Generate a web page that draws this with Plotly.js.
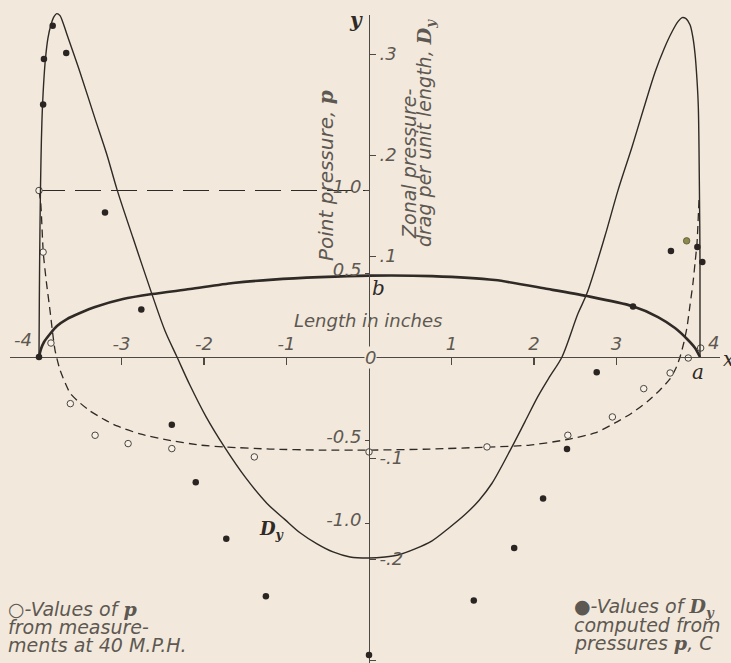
<!DOCTYPE html>
<html>
<head>
<meta charset="utf-8">
<script src="https://cdn.plot.ly/plotly-3.0.1.min.js"></script>
<style>
  html, body { margin: 0; padding: 0; background: #f2e9dc; }
  #chart { width: 731px; height: 663px; }
</style>
</head>
<body>
<div id="chart"></div>
<script>
// body profile (inches, plotted on the p scale)
var profileX = [-4.0, -3.976, -3.939, -3.867, -3.782, -3.661, -3.503, -3.321, -2.982, -2.63, -2.17, -1.648, -1.164, -0.594, 0,
  0.764, 1.527, 2.17, 2.642, 3.188, 3.503, 3.709, 3.855, 3.952, 4.012];
var profileY = [0, 0.048, 0.09, 0.138, 0.186, 0.228, 0.264, 0.3, 0.348, 0.378, 0.408, 0.444, 0.465, 0.48, 0.489,
  0.486, 0.462, 0.408, 0.366, 0.306, 0.24, 0.174, 0.108, 0.054, 0];

// faired point pressure p (dashed)
var pCurveX = [-4.0, -3.979, -3.948, -3.909, -3.867, -3.836, -3.806, -3.745, -3.624, -3.503, -3.382, -3.2, -3.055, -2.776,
  -2.448, -2.048, -1.721, -1.2, -0.594, 0, 0.739, 1.442, 1.952, 2.376, 2.739, 2.982, 3.188, 3.382, 3.527, 3.648, 3.721,
  3.77, 3.818, 3.855, 3.891, 3.927, 3.952, 3.976, 4.0];
var pCurveY = [1.0, 0.925, 0.625, 0.444, 0.282, 0.15, 0.042, -0.078, -0.216, -0.276, -0.324, -0.378, -0.414, -0.462,
  -0.498, -0.529, -0.541, -0.553, -0.559, -0.559, -0.553, -0.541, -0.529, -0.498, -0.456, -0.396, -0.336, -0.264, -0.198,
  -0.132, -0.066, 0, 0.09, 0.18, 0.312, 0.444, 0.565, 0.685, 0.943];

// p = 1.0 reference line
var refX = [-4.0, 0];
var refY = [1.0, 1.0];

// zonal pressure drag per unit length Dy
var dyCurveX = [-4.0, -3.996, -3.991, -3.984, -3.976, -3.964, -3.945, -3.921, -3.891, -3.855, -3.818, -3.785, -3.745,
  -3.709, -3.664, -3.503, -3.321, -3.176, -3.055, -2.861, -2.63, -2.473, -2.327, -2.17, -1.976, -1.745, -1.491, -1.236,
  -1.018, -0.836, -0.63, -0.436, -0.23, 0,
  0.194, 0.352, 0.558, 0.764, 0.958, 1.164, 1.333, 1.491, 1.733, 1.891, 2.048, 2.194, 2.339, 2.533, 2.642, 2.861, 3.018,
  3.188, 3.333, 3.467, 3.576, 3.673, 3.745, 3.794, 3.842, 3.891, 3.927, 3.952, 3.976, 3.992, 4.004, 4.012, 4.012];
var dyCurveY = [0, 0.056, 0.106, 0.155, 0.195, 0.235, 0.269, 0.296, 0.316, 0.329, 0.337, 0.34, 0.338,
  0.331, 0.32, 0.282, 0.236, 0.2, 0.166, 0.118, 0.062, 0.026, 0, -0.028, -0.059, -0.09, -0.12, -0.145,
  -0.161, -0.174, -0.185, -0.193, -0.198, -0.199,
  -0.198, -0.196, -0.19, -0.182, -0.17, -0.156, -0.142, -0.125, -0.089, -0.064, -0.039, -0.019, 0, 0.043, 0.063, 0.12, 0.165,
  0.208, 0.247, 0.282, 0.305, 0.322, 0.332, 0.336, 0.335, 0.329, 0.316, 0.3, 0.274, 0.247, 0.175, 0.096, 0];

// measured p at 40 M.P.H. (open circles)
var pMeasX = [-4.0, -3.95, -3.855, -3.62, -3.32, -2.92, -2.39, -1.39, 0, 1.43, 2.41, 2.95, 3.33, 3.65, 3.87, 4.02];
var pMeasY = [1.0, 0.63, 0.084, -0.28, -0.47, -0.52, -0.55, -0.6, -0.57, -0.54, -0.47, -0.36, -0.19, -0.096, -0.006, 0.054];

// Dy computed from pressures (filled circles)
var dyPtsX = [-4.0, -3.95, -3.94, -3.834, -3.67, -3.2, -2.76, -2.39, -2.1, -1.73, -1.25, 0,
  1.27, 1.76, 2.11, 2.4, 2.76, 3.2, 3.66, 3.98, 4.04];
var dyPtsY = [0, 0.25, 0.295, 0.328, 0.301, 0.143, 0.047, -0.067, -0.124, -0.18, -0.237, -0.295,
  -0.241, -0.189, -0.14, -0.091, -0.015, 0.05, 0.105, 0.109, 0.094];

// one faint (olive) point near the tail
var olivePtX = [3.85];
var olivePtY = [0.115];

var ink = '#2f2a26';
var letter = '#5e5852';
var sans = 'DejaVu Sans, sans-serif';
var serif = 'DejaVu Serif, serif';

var W = 731, H = 663;
function px(v) { return v / W; }
function py(v) { return 1 - v / H; }

var data = [
  { x: refX, y: refY, type: 'scatter', mode: 'lines', xaxis: 'x', yaxis: 'y',
    line: { color: ink, width: 1.2, dash: '26px,10px' } },
  { x: profileX, y: profileY, type: 'scatter', mode: 'lines', xaxis: 'x', yaxis: 'y',
    line: { color: ink, width: 2.6, shape: 'spline', smoothing: 0.7 } },
  { x: pCurveX, y: pCurveY, type: 'scatter', mode: 'lines', xaxis: 'x', yaxis: 'y',
    line: { color: ink, width: 1.3, dash: '8px,5px', shape: 'spline', smoothing: 0.6 } },
  { x: dyCurveX, y: dyCurveY, type: 'scatter', mode: 'lines', xaxis: 'x', yaxis: 'y2',
    line: { color: ink, width: 1.4, shape: 'spline', smoothing: 0.9 } },
  { x: pMeasX, y: pMeasY, type: 'scatter', mode: 'markers', xaxis: 'x', yaxis: 'y', cliponaxis: false,
    marker: { symbol: 'circle', size: 6.5, color: '#f7f0e6', line: { color: '#4a4540', width: 1 } } },
  { x: dyPtsX, y: dyPtsY, type: 'scatter', mode: 'markers', xaxis: 'x', yaxis: 'y2', cliponaxis: false,
    marker: { symbol: 'circle', size: 6.5, color: '#2a2522', line: { width: 0 } } },
  { x: olivePtX, y: olivePtY, type: 'scatter', mode: 'markers', xaxis: 'x', yaxis: 'y2', cliponaxis: false,
    marker: { symbol: 'circle', size: 6.5, color: '#8c8a4e', line: { color: '#5a5530', width: 0.8 } } }
];

var tickFont = { family: sans, size: 18, color: letter, style: 'italic' };

var layout = {
  width: W, height: H,
  margin: { l: 0, r: 0, t: 0, b: 0 },
  paper_bgcolor: '#f2e9dc',
  plot_bgcolor: 'rgba(0,0,0,0)',
  showlegend: false,
  xaxis: {
    domain: [10 / W, 720 / W], range: [-4.3515, 4.2545],
    anchor: 'free', position: 306 / H, side: 'top',
    showline: true, linecolor: '#4d4843', linewidth: 1.1,
    ticks: 'inside', ticklen: 7, tickcolor: '#4d4843', tickwidth: 1.1,
    tickvals: [-3, -2, -1, 1, 2, 3], ticktext: ['-3', '-2', '-1', '1', '2', '3'],
    tickfont: tickFont, showgrid: false, zeroline: false, fixedrange: true
  },
  yaxis: {
    domain: [0, 648 / H], range: [-1.8378, 2.0541],
    anchor: 'free', position: 369 / W, side: 'left',
    showline: true, linecolor: '#4d4843', linewidth: 1.1,
    ticks: 'outside', ticklen: 4, tickcolor: '#4d4843',
    tickvals: [-1, -0.5, 0.5, 1], ticktext: ['-1.0', '-0.5', '0.5', '1.0'],
    ticklabelshift: -4,
    tickfont: tickFont, showgrid: false, zeroline: false, fixedrange: true
  },
  yaxis2: {
    domain: [0, 1], range: [-0.30297, 0.35347],
    anchor: 'free', position: 369 / W, side: 'right',
    showline: false,
    ticks: 'outside', ticklen: 6, tickcolor: '#4d4843',
    tickvals: [-0.3, -0.2, -0.1, 0.1, 0.2, 0.3], ticktext: ['-.3', '-.2', '-.1', '.1', '.2', '.3'],
    tickfont: tickFont, showgrid: false, zeroline: false, fixedrange: true
  },
  annotations: []
};

function note(text, x, y, opts) {
  var a = {
    text: text, xref: 'paper', yref: 'paper', x: px(x), y: py(y),
    xanchor: 'center', yanchor: 'middle', showarrow: false,
    font: { family: sans, size: 18, color: letter, style: 'italic' }
  };
  for (var k in opts) a[k] = opts[k];
  layout.annotations.push(a);
}

var bold = function (t) { return '<span style="font-family:DejaVu Serif;font-weight:bold">' + t + '</span>'; };
var legendFont = { family: sans, size: 19, color: letter, style: 'italic' };
var titleFont = { family: sans, size: 19, color: letter, style: 'italic' };

note('0', 370, 357, { bgcolor: '#f2e9dc', borderpad: 0 });
note('-4', 23, 339);
note('4', 713, 342);
note('Length in inches', 368, 320);
note('y', 356, 20, { font: { family: serif, size: 20, color: ink, style: 'italic', weight: 'bold' } });
note('x', 728, 359, { font: { family: serif, size: 20, color: ink, style: 'italic' } });
note('a', 698, 372, { font: { family: serif, size: 20, color: ink, style: 'italic' } });
note('b', 378, 288, { font: { family: serif, size: 20, color: ink, style: 'italic' } });
note('D<sub>y</sub>', 272, 530, { font: { family: serif, size: 18, color: ink, style: 'italic', weight: 'bold' } });
note('Point pressure, ' + bold('p'), 326, 176, { textangle: -90, font: { family: sans, size: 20, color: letter, style: 'italic' } });
note('Zonal pressure-', 409, 164, { textangle: -90, font: titleFont });
note('drag per unit length, ' + bold('D<sub>y</sub>'), 426, 133, { textangle: -90, font: titleFont });

note('○-Values of ' + bold('p'), 6, 609, { xanchor: 'left', font: legendFont });
note('from measure-', 6, 627, { xanchor: 'left', font: legendFont });
note('ments at 40 M.P.H.', 6, 645, { xanchor: 'left', font: legendFont });

note('●-Values of ' + bold('D<sub>y</sub>'), 572, 607, { xanchor: 'left', font: legendFont });
note('computed from', 572, 625, { xanchor: 'left', font: legendFont });
note('pressures ' + bold('p') + ', C', 572, 643, { xanchor: 'left', font: legendFont });

Plotly.newPlot('chart', data, layout, {
  displayModeBar: false,
  staticPlot: true
});
</script>
</body>
</html>
